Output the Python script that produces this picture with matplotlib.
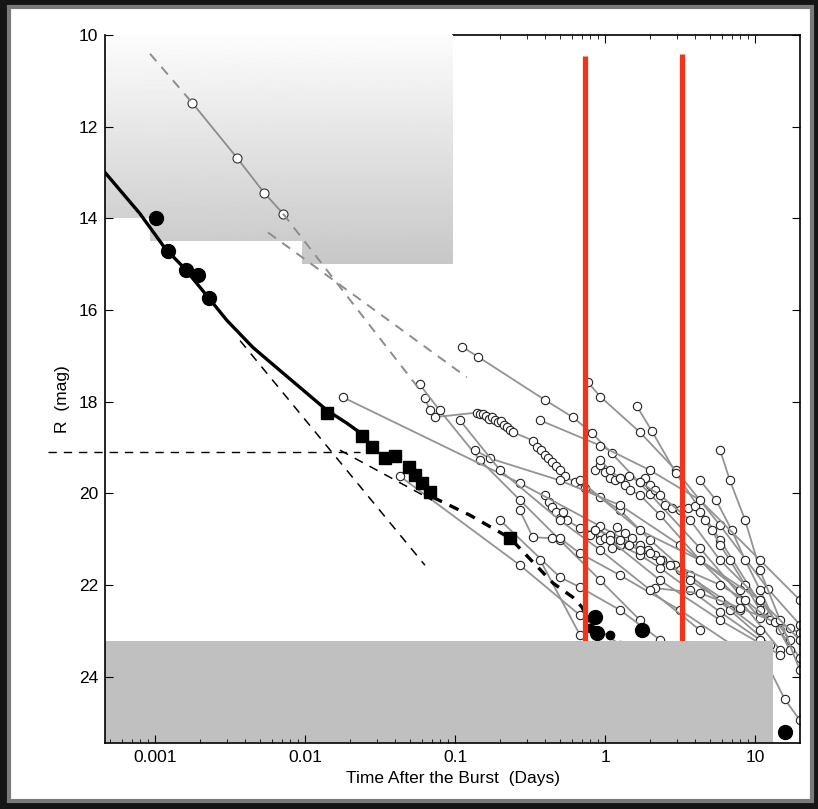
import numpy as np
import matplotlib
matplotlib.use("Agg")
import matplotlib.pyplot as plt
from matplotlib.patches import Rectangle, Polygon
from matplotlib.ticker import FixedLocator, NullFormatter

plt.rcParams['font.family'] = ['Liberation Sans', 'DejaVu Sans']

# --- early optical flash (black circles) and early afterglow (black squares)
flash_t = [0.00102, 0.00122, 0.00161, 0.00194, 0.00229]
flash_m = [13.99, 14.71, 15.12, 15.23, 15.73]
early_t = [0.0140, 0.024, 0.028, 0.034, 0.040, 0.049, 0.054, 0.060, 0.068, 0.233]
early_m = [18.24, 18.76, 19.00, 19.24, 19.19, 19.43, 19.60, 19.78, 19.98, 20.98]
late_t = [0.86, 0.88, 1.77, 15.8]
late_m = [22.70, 23.05, 22.98, 25.20]
small_t = [0.80, 1.08]
small_m = [22.95, 23.10]

# model curve (solid) and its continuation (thick dashed)
model_t = [4.64e-4, 7.94e-4, 1.17e-3, 1.58e-3, 2.0e-3, 3.02e-3, 4.5e-3, 6.8e-3,
           0.0103, 0.014, 0.019, 0.0222]
model_m = [13.0, 13.9, 14.66, 15.1, 15.51, 16.23, 16.82, 17.32, 17.82, 18.19,
           18.47, 18.63]
tail_t = [0.0713, 0.126, 0.233, 0.45, 0.61, 0.70, 0.79]
tail_m = [20.09, 20.48, 20.98, 21.96, 22.27, 22.48, 22.80]

# power-law components (thin dashed)
steep_t = [3.69e-3, 0.063]
steep_m = [16.67, 21.57]
shallow_t = [0.0171, 0.0703]
shallow_m = [19.06, 20.15]
level_t = [1.94e-4, 0.0233]
level_m = [19.1, 19.1]

# bright early flash (gray, open markers) and extrapolations
gflash_t = [0.00177, 0.00352, 0.00533, 0.00714]
gflash_m = [11.48, 12.68, 13.44, 13.90]
gdashA_t = [9.26e-4, 0.00177]
gdashA_m = [10.41, 11.48]
gdashA2_t = [0.00714, 0.0585]
gdashA2_m = [13.90, 17.75]
gdashB_t = [5.67e-3, 0.12]
gdashB_m = [14.31, 17.47]

# afterglow light curves (gray lines, open markers)
curves = [
    ([0.111, 0.142, 0.40, 0.61, 0.82, 1.11, 2.0, 4.3, 10.8],
     [16.80, 17.02, 17.97, 18.34, 18.69, 19.13, 20.02, 21.20, 22.73]),
    ([0.77, 0.93, 1.71, 2.97, 5.85, 12.3, 19.9],
     [17.58, 17.89, 18.67, 19.50, 20.70, 22.10, 22.87]),
    ([1.63, 2.06, 2.97, 5.85, 11.5, 19.9],
     [18.10, 18.65, 19.56, 21.02, 22.55, 23.59]),
    ([0.063, 0.068, 0.073, 0.140, 0.147, 0.154, 0.161, 0.169, 0.177, 0.185,
      0.194, 0.203, 0.213, 0.222, 0.233, 0.244, 0.331, 0.352, 0.374, 0.398,
      0.417, 0.443, 0.471, 0.501, 0.541, 0.631, 0.736, 0.926, 1.26, 2.0, 3.69,
      6.8, 12.6],
     [17.93, 18.19, 18.34, 18.24, 18.28, 18.26, 18.32, 18.37, 18.34, 18.41,
      18.45, 18.43, 18.52, 18.56, 18.61, 18.67, 18.85, 18.98, 19.06, 19.17,
      19.24, 19.32, 19.41, 19.50, 19.63, 19.76, 19.89, 20.09, 20.37, 21.02,
      21.79, 22.55, 23.31]),
    ([0.858, 0.926, 1.0, 1.08, 1.166, 1.26, 1.36, 1.47, 1.71, 2.33, 4.3, 7.9, 14.7],
     [19.50, 19.39, 19.54, 19.67, 19.72, 19.67, 19.83, 19.93, 20.04, 20.48,
      21.46, 22.33, 23.42]),
    ([1.71, 1.85, 2.0, 2.15, 2.51, 2.8, 3.16, 3.58, 3.98, 4.3, 4.64, 5.17, 5.85,
      6.81, 8.58, 10.8, 14.7],
     [19.76, 19.67, 19.83, 19.93, 20.26, 20.33, 20.37, 20.33, 20.28, 20.41,
      20.59, 20.81, 21.13, 21.46, 22.00, 22.55, 22.99]),
    ([0.398, 0.423, 0.443, 0.471, 0.501, 0.525, 0.558, 0.68, 0.926, 1.26, 1.71,
      2.33, 3.69, 5.85, 10.8],
     [20.04, 20.20, 20.30, 20.41, 20.54, 20.41, 20.59, 20.76, 20.91, 21.13,
      21.35, 21.63, 22.11, 22.59, 23.20]),
    ([0.794, 0.858, 0.926, 1.0, 1.11, 1.2, 1.36, 1.51, 1.71, 1.94, 2.15, 2.4,
      2.93, 5.85, 8.58, 12.6],
     [20.92, 20.81, 21.02, 20.98, 21.20, 20.74, 20.87, 20.98, 21.13, 21.24,
      21.35, 21.46, 21.57, 22.00, 22.33, 22.77]),
    ([0.058, 0.079, 0.147, 0.271, 0.50, 0.93, 1.71],
     [17.62, 18.19, 19.28, 20.15, 21.02, 21.90, 22.77]),
    ([0.018, 0.271, 0.93, 3.16, 7.9],
     [17.91, 19.78, 20.72, 21.68, 22.55]),
    ([0.136, 0.171, 0.50, 1.26, 3.16, 7.9],
     [19.06, 19.24, 19.72, 20.26, 21.13, 22.11]),
    ([0.043, 0.271, 0.68, 1.26],
     [19.63, 21.57, 22.66, 23.31]),
    ([0.27, 0.33, 0.44, 0.50, 0.68, 1.26, 3.16, 7.9],
     [20.37, 20.96, 20.98, 20.98, 21.31, 21.79, 22.55, 23.42]),
    ([0.20, 0.50, 0.68, 1.26, 2.33],
     [20.59, 21.83, 22.05, 22.55, 23.20]),
    ([0.37, 0.68, 1.08],
     [21.46, 23.09, 23.64]),
    ([0.93, 1.08, 1.26, 1.45, 1.71, 2.33, 3.7, 5.85, 10.8, 17.1],
     [19.28, 19.50, 19.67, 19.63, 19.76, 20.04, 20.59, 21.46, 22.33, 23.20]),
    ([0.86, 1.08, 1.26, 1.45, 1.71, 1.99, 2.33, 2.71, 3.7, 5.85, 10.8],
     [20.81, 20.91, 21.02, 21.13, 21.24, 21.31, 21.46, 21.57, 21.90, 22.33, 22.99]),
    ([2.15, 4.3, 7.9, 17.1, 19.9],
     [22.07, 22.18, 22.50, 22.94, 23.05]),
    ([4.3, 5.5, 7.0, 8.6, 10.8, 13.6, 17.1],
     [19.72, 20.15, 20.81, 21.46, 22.11, 22.81, 23.42]),
    ([5.85, 6.8, 8.6, 10.8, 14.7, 19.9],
     [19.06, 19.72, 20.59, 21.68, 22.77, 23.86]),
    ([0.108, 0.20, 0.50, 0.93, 2.0, 4.3],
     [18.41, 19.50, 20.59, 21.24, 22.11, 22.99]),
    ([0.68, 1.71, 4.3, 10.8, 19.9],
     [19.72, 20.81, 21.46, 22.33, 23.20]),
    ([0.37, 0.93, 2.0, 4.3, 10.8, 19.9],
     [18.41, 18.96, 19.50, 20.15, 21.46, 22.33]),
    ([1.08, 2.33, 5.85, 14.7],
     [21.02, 21.90, 22.77, 23.53]),
    ([10.8, 15.8, 19.9],
     [23.42, 24.50, 24.95]),
]

vlines_t = [0.735, 3.26]
vlines_top = [10.45, 10.42]

xmin, xmax = 4.64e-4, 19.95
ymin, ymax = 25.45, 10.0
box_top, box_right = 23.22, 13.2

fig = plt.figure(figsize=(8.18, 8.09), dpi=100, facecolor='#151515')
# slide frame
fig.patches.append(Rectangle((9 / 818, 8 / 809), 803 / 818, 794 / 809,
                             transform=fig.transFigure, facecolor='white',
                             edgecolor='#7a7a7a', linewidth=3, zorder=-5))
ax = fig.add_axes([105 / 818, 1 - 743 / 809, 695 / 818, 708 / 809])
ax.set_facecolor('none')
ax.set_xscale('log')
ax.set_xlim(xmin, xmax)
ax.set_ylim(ymin, ymax)

# upper limits region: vertical gray gradient, stepped outline
grad = np.linspace(0.99, 0.78, 256).reshape(-1, 1)
im = ax.imshow(grad, cmap='gray', vmin=0, vmax=1, aspect='auto',
               extent=[xmin, 0.097, 15.0, 10.0], zorder=3, interpolation='bilinear')
step = Polygon([(xmin, 10.0), (0.097, 10.0), (0.097, 15.0), (0.0095, 15.0),
                (0.0095, 14.5), (9.3e-4, 14.5), (9.3e-4, 14.0), (xmin, 14.0)],
               closed=True, transform=ax.transData, facecolor='none', edgecolor='none')
ax.add_patch(step)
im.set_clip_path(step)

# afterglow light curves
for t, m in curves:
    ax.plot(t, m, color='#939393', lw=1.3, marker='o', ms=6, mfc='white',
            mec='#222222', mew=0.8, zorder=4)

ax.plot(gflash_t, gflash_m, color='#8c8c8c', lw=1.3, marker='o', ms=6.5,
        mfc='white', mec='#333333', mew=0.8, zorder=4)
for t, m in [(gdashA_t, gdashA_m), (gdashA2_t, gdashA2_m), (gdashB_t, gdashB_m)]:
    ax.plot(t, m, color='#8c8c8c', lw=1.4, ls=(0, (5, 4)), zorder=4)

# model and power laws
ax.plot(model_t, model_m, color='black', lw=2.4, zorder=5)
ax.plot(tail_t, tail_m, color='black', lw=2.4, ls=(0, (3, 2.5)), zorder=5)
ax.plot(steep_t, steep_m, color='black', lw=1.1, ls=(0, (6, 5)), zorder=5)
ax.plot(shallow_t, shallow_m, color='black', lw=1.1, ls=(0, (6, 5)), zorder=5)
ax.plot(level_t, level_m, color='black', lw=1.0, ls=(0, (6, 5)), zorder=5,
        clip_on=False)

ax.plot(flash_t, flash_m, 'o', color='black', ms=10, zorder=6)
ax.plot(early_t, early_m, 's', color='black', ms=9, zorder=6)
ax.plot(late_t, late_m, 'o', color='black', ms=10, zorder=6)
ax.plot(small_t, small_m, 'o', color='black', ms=6, zorder=6)

# epochs of interest
for t, top in zip(vlines_t, vlines_top):
    ax.plot([t, t], [top, box_top], color='#f2341c', lw=3.8, zorder=7,
            solid_capstyle='butt')

# sensitivity floor
ax.add_patch(Rectangle((xmin, box_top), box_right - xmin, ymin - box_top,
                       facecolor='#c0c0c0', edgecolor='none', zorder=8))

# axes cosmetics
for s in ['left', 'right', 'bottom']:
    ax.spines[s].set_zorder(9)
    ax.spines[s].set_linewidth(1.2)
ax.spines['top'].set_visible(False)
ax.set_yticks([10, 12, 14, 16, 18, 20, 22, 24])
ax.set_xticks([0.001, 0.01, 0.1, 1, 10])
ax.set_xticklabels(['0.001', '0.01', '0.1', '1', '10'])
ax.tick_params(which='both', direction='in', top=False, right=True,
               labelsize=12.5, pad=5)
ax.tick_params(which='major', length=6)
ax.tick_params(which='minor', length=3)
ax.xaxis.set_zorder(9)
ax.yaxis.set_zorder(9)

top = ax.secondary_xaxis('top')
top.xaxis.set_major_locator(FixedLocator([1, 10]))
top.xaxis.set_minor_locator(FixedLocator([0.2, 0.3, 0.4, 0.5, 0.6, 0.7, 0.8, 0.9,
                                          2, 3, 4, 5, 6, 7, 8, 9]))
top.xaxis.set_major_formatter(NullFormatter())
top.xaxis.set_minor_formatter(NullFormatter())
top.tick_params(which='both', direction='in')
top.tick_params(which='major', length=6)
top.tick_params(which='minor', length=3)
top.spines['top'].set_bounds(0.097, xmax)
top.spines['top'].set_linewidth(1.2)

ax.set_xlabel('Time After the Burst  (Days)', fontsize=12.5, labelpad=4)
ax.set_ylabel('R  (mag)', fontsize=12.5)
ax.yaxis.set_label_coords(-0.05, 0.485)

fig.savefig('out.png', dpi=100, facecolor=fig.get_facecolor())
